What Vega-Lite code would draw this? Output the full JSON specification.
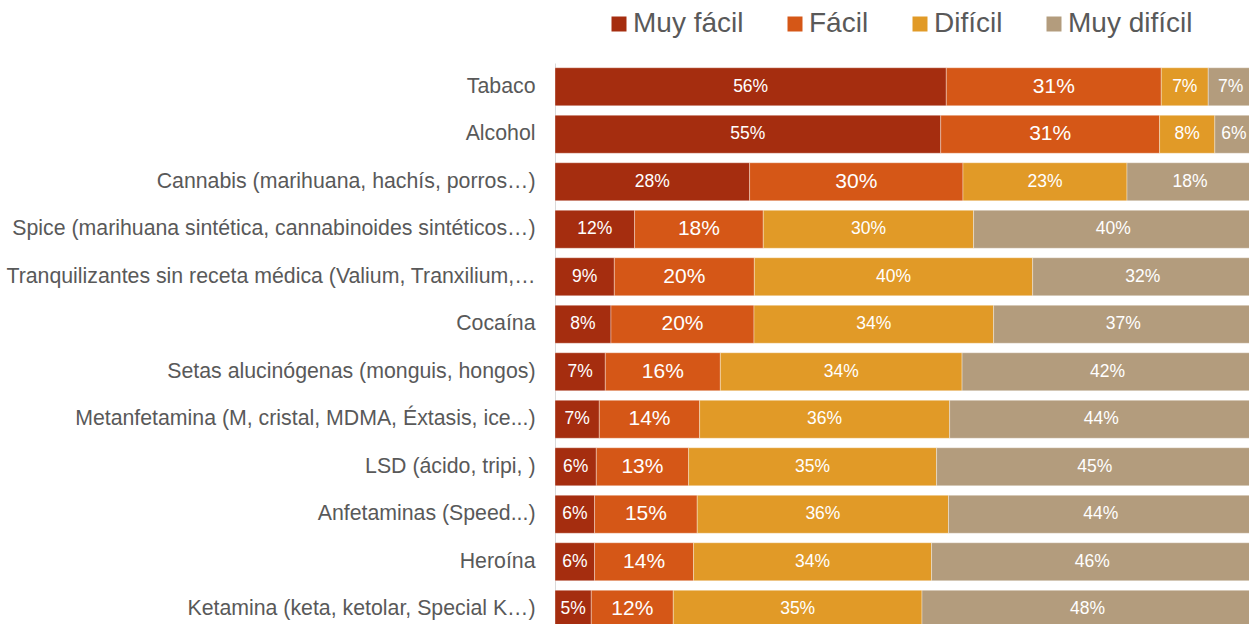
{
  "$schema": "https://vega.github.io/schema/vega-lite/v6.json",
  "width": 698,
  "height": 570,
  "autosize": "none",
  "padding": {"left": 555, "top": 63, "right": 0, "bottom": 0},
  "background": "#ffffff",
  "config": {"font": "Liberation Sans", "view": {"stroke": null}},
  "data": {
    "values": [
      {"sustancia": "Tabaco", "nivel": "Muy fácil", "pct": 56.06, "etiqueta": "56%"},
      {"sustancia": "Tabaco", "nivel": "Fácil", "pct": 30.80, "etiqueta": "31%"},
      {"sustancia": "Tabaco", "nivel": "Difícil", "pct": 6.73, "etiqueta": "7%"},
      {"sustancia": "Tabaco", "nivel": "Muy difícil", "pct": 6.41, "etiqueta": "7%"},
      {"sustancia": "Alcohol", "nivel": "Muy fácil", "pct": 55.26, "etiqueta": "55%"},
      {"sustancia": "Alcohol", "nivel": "Fácil", "pct": 31.36, "etiqueta": "31%"},
      {"sustancia": "Alcohol", "nivel": "Difícil", "pct": 7.91, "etiqueta": "8%"},
      {"sustancia": "Alcohol", "nivel": "Muy difícil", "pct": 5.47, "etiqueta": "6%"},
      {"sustancia": "Cannabis (marihuana, hachís, porros…)", "nivel": "Muy fácil", "pct": 27.88, "etiqueta": "28%"},
      {"sustancia": "Cannabis (marihuana, hachís, porros…)", "nivel": "Fácil", "pct": 30.57, "etiqueta": "30%"},
      {"sustancia": "Cannabis (marihuana, hachís, porros…)", "nivel": "Difícil", "pct": 23.50, "etiqueta": "23%"},
      {"sustancia": "Cannabis (marihuana, hachís, porros…)", "nivel": "Muy difícil", "pct": 18.05, "etiqueta": "18%"},
      {"sustancia": "Spice (marihuana sintética, cannabinoides sintéticos…)", "nivel": "Muy fácil", "pct": 11.40, "etiqueta": "12%"},
      {"sustancia": "Spice (marihuana sintética, cannabinoides sintéticos…)", "nivel": "Fácil", "pct": 18.44, "etiqueta": "18%"},
      {"sustancia": "Spice (marihuana sintética, cannabinoides sintéticos…)", "nivel": "Difícil", "pct": 30.13, "etiqueta": "30%"},
      {"sustancia": "Spice (marihuana sintética, cannabinoides sintéticos…)", "nivel": "Muy difícil", "pct": 40.03, "etiqueta": "40%"},
      {"sustancia": "Tranquilizantes sin receta médica (Valium, Tranxilium,…", "nivel": "Muy fácil", "pct": 8.50, "etiqueta": "9%"},
      {"sustancia": "Tranquilizantes sin receta médica (Valium, Tranxilium,…", "nivel": "Fácil", "pct": 20.06, "etiqueta": "20%"},
      {"sustancia": "Tranquilizantes sin receta médica (Valium, Tranxilium,…", "nivel": "Difícil", "pct": 39.87, "etiqueta": "40%"},
      {"sustancia": "Tranquilizantes sin receta médica (Valium, Tranxilium,…", "nivel": "Muy difícil", "pct": 31.57, "etiqueta": "32%"},
      {"sustancia": "Cocaína", "nivel": "Muy fácil", "pct": 8.02, "etiqueta": "8%"},
      {"sustancia": "Cocaína", "nivel": "Fácil", "pct": 20.49, "etiqueta": "20%"},
      {"sustancia": "Cocaína", "nivel": "Difícil", "pct": 34.33, "etiqueta": "34%"},
      {"sustancia": "Cocaína", "nivel": "Muy difícil", "pct": 37.16, "etiqueta": "37%"},
      {"sustancia": "Setas alucinógenas (monguis, hongos)", "nivel": "Muy fácil", "pct": 7.21, "etiqueta": "7%"},
      {"sustancia": "Setas alucinógenas (monguis, hongos)", "nivel": "Fácil", "pct": 16.48, "etiqueta": "16%"},
      {"sustancia": "Setas alucinógenas (monguis, hongos)", "nivel": "Difícil", "pct": 34.63, "etiqueta": "34%"},
      {"sustancia": "Setas alucinógenas (monguis, hongos)", "nivel": "Muy difícil", "pct": 41.68, "etiqueta": "42%"},
      {"sustancia": "Metanfetamina (M, cristal, MDMA, Éxtasis, ice...)", "nivel": "Muy fácil", "pct": 6.35, "etiqueta": "7%"},
      {"sustancia": "Metanfetamina (M, cristal, MDMA, Éxtasis, ice...)", "nivel": "Fácil", "pct": 14.37, "etiqueta": "14%"},
      {"sustancia": "Metanfetamina (M, cristal, MDMA, Éxtasis, ice...)", "nivel": "Difícil", "pct": 35.82, "etiqueta": "36%"},
      {"sustancia": "Metanfetamina (M, cristal, MDMA, Éxtasis, ice...)", "nivel": "Muy difícil", "pct": 43.46, "etiqueta": "44%"},
      {"sustancia": "LSD (ácido, tripi, )", "nivel": "Muy fácil", "pct": 5.92, "etiqueta": "6%"},
      {"sustancia": "LSD (ácido, tripi, )", "nivel": "Fácil", "pct": 13.22, "etiqueta": "13%"},
      {"sustancia": "LSD (ácido, tripi, )", "nivel": "Difícil", "pct": 35.53, "etiqueta": "35%"},
      {"sustancia": "LSD (ácido, tripi, )", "nivel": "Muy difícil", "pct": 45.33, "etiqueta": "45%"},
      {"sustancia": "Anfetaminas (Speed...)", "nivel": "Muy fácil", "pct": 5.67, "etiqueta": "6%"},
      {"sustancia": "Anfetaminas (Speed...)", "nivel": "Fácil", "pct": 14.71, "etiqueta": "15%"},
      {"sustancia": "Anfetaminas (Speed...)", "nivel": "Difícil", "pct": 36.00, "etiqueta": "36%"},
      {"sustancia": "Anfetaminas (Speed...)", "nivel": "Muy difícil", "pct": 43.62, "etiqueta": "44%"},
      {"sustancia": "Heroína", "nivel": "Muy fácil", "pct": 5.67, "etiqueta": "6%"},
      {"sustancia": "Heroína", "nivel": "Fácil", "pct": 14.18, "etiqueta": "14%"},
      {"sustancia": "Heroína", "nivel": "Difícil", "pct": 34.10, "etiqueta": "34%"},
      {"sustancia": "Heroína", "nivel": "Muy difícil", "pct": 46.05, "etiqueta": "46%"},
      {"sustancia": "Ketamina (keta, ketolar, Special K…)", "nivel": "Muy fácil", "pct": 5.20, "etiqueta": "5%"},
      {"sustancia": "Ketamina (keta, ketolar, Special K…)", "nivel": "Fácil", "pct": 11.75, "etiqueta": "12%"},
      {"sustancia": "Ketamina (keta, ketolar, Special K…)", "nivel": "Difícil", "pct": 35.63, "etiqueta": "35%"},
      {"sustancia": "Ketamina (keta, ketolar, Special K…)", "nivel": "Muy difícil", "pct": 47.42, "etiqueta": "48%"}
    ]
  },
  "transform": [
    {"calculate": "indexof(['Muy fácil','Fácil','Difícil','Muy difícil'], datum.nivel)", "as": "orden"},
    {"stack": "pct", "groupby": ["sustancia"], "sort": [{"field": "orden", "order": "ascending"}], "as": ["x0", "x1"]},
    {"calculate": "(datum.x0 + datum.x1) / 2", "as": "xm"}
  ],
  "encoding": {
    "y": {
      "field": "sustancia",
      "type": "nominal",
      "sort": [
        "Tabaco", "Alcohol", "Cannabis (marihuana, hachís, porros…)",
        "Spice (marihuana sintética, cannabinoides sintéticos…)",
        "Tranquilizantes sin receta médica (Valium, Tranxilium,…",
        "Cocaína", "Setas alucinógenas (monguis, hongos)",
        "Metanfetamina (M, cristal, MDMA, Éxtasis, ice...)",
        "LSD (ácido, tripi, )", "Anfetaminas (Speed...)", "Heroína",
        "Ketamina (keta, ketolar, Special K…)"
      ],
      "scale": {"paddingInner": 0.2, "paddingOuter": 0.1},
      "axis": {
        "title": null,
        "ticks": false,
        "domain": true,
        "domainColor": "#d9d9d9",
        "domainWidth": 1,
        "labelFontSize": 21.3,
        "labelColor": "#595959",
        "labelPadding": 20,
        "labelLimit": 800
      }
    }
  },
  "layer": [
    {
      "mark": {"type": "bar", "stroke": "#ffffff", "strokeWidth": 0.7, "strokeOpacity": 0.5},
      "encoding": {
        "x": {"field": "x0", "type": "quantitative", "scale": {"domain": [0, 100], "nice": false}, "axis": null},
        "x2": {"field": "x1"},
        "color": {
          "field": "nivel",
          "type": "nominal",
          "scale": {
            "domain": ["Muy fácil", "Fácil", "Difícil", "Muy difícil"],
            "range": ["#a52d0f", "#d55717", "#e19a27", "#b39c7d"]
          },
          "legend": {
            "orient": "none",
            "legendX": 50,
            "legendY": -53,
            "direction": "horizontal",
            "title": null,
            "symbolType": "square",
            "symbolSize": 225,
            "symbolStrokeWidth": 0,
            "symbolOpacity": 1,
            "labelFontSize": 28,
            "labelColor": "#595959",
            "labelOffset": 0,
            "columnPadding": 37,
            "padding": 0
          }
        }
      }
    },
    {
      "mark": {"type": "text", "color": "#ffffff", "baseline": "middle", "align": "center"},
      "encoding": {
        "x": {"field": "xm", "type": "quantitative"},
        "text": {"field": "etiqueta"},
        "size": {"condition": {"test": "datum.nivel === 'Fácil'", "value": 21}, "value": 17.5}
      }
    }
  ]
}
